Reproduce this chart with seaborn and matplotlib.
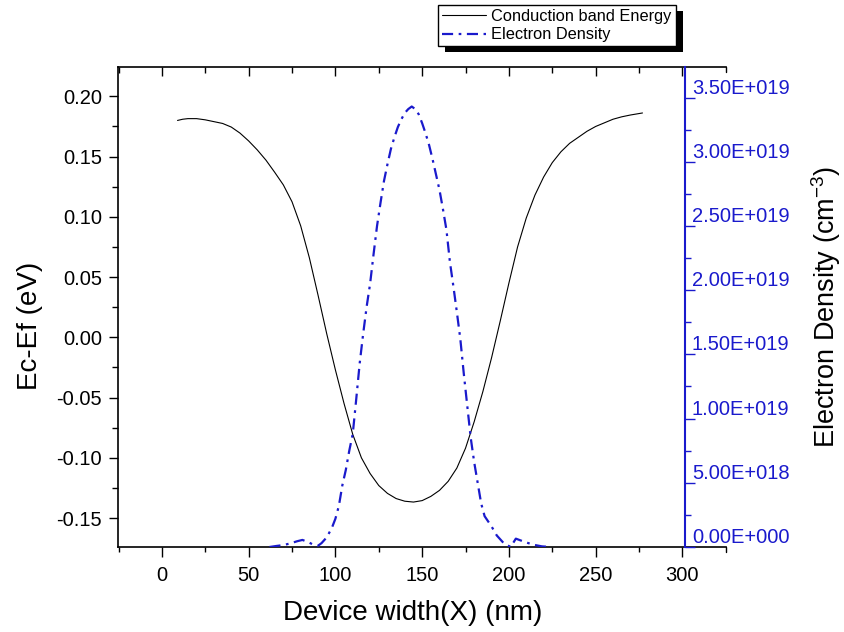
import numpy as np
import pandas as pd
import matplotlib
matplotlib.use("Agg")
import matplotlib.pyplot as plt
import seaborn as sns
from matplotlib.ticker import MultipleLocator, FuncFormatter
from matplotlib.patches import Rectangle
from matplotlib.lines import Line2D

# ---- data ----
x_cb = [9, 12, 15, 20, 25, 30, 35, 40, 45, 50, 55, 60, 65, 70, 75, 80, 85, 90,
        95, 100, 105, 110, 115, 120, 125, 130, 135, 140, 145, 150, 155, 160,
        165, 170, 175, 180, 185, 190, 195, 200, 205, 210, 215, 220, 225, 230,
        235, 240, 245, 250, 255, 260, 265, 270, 277]
ec_ef = [0.180, 0.181, 0.1815, 0.1815, 0.1805, 0.179, 0.1775, 0.1745, 0.1695,
         0.163, 0.1555, 0.147, 0.137, 0.1265, 0.1125, 0.0925, 0.066, 0.035,
         0.003, -0.027, -0.055, -0.0805, -0.100, -0.113, -0.123, -0.1295,
         -0.1338, -0.136, -0.1367, -0.1355, -0.132, -0.127, -0.1195, -0.1085,
         -0.092, -0.070, -0.045, -0.017, 0.0135, 0.045, 0.075, 0.099, 0.118,
         0.133, 0.145, 0.154, 0.161, 0.166, 0.171, 0.175, 0.178, 0.181, 0.183,
         0.1845, 0.1862]

x_ed = [62, 66, 70, 74, 78, 81, 84, 87, 90, 92, 94, 96, 98, 100, 102, 104, 106,
        108, 110, 112, 114, 116, 118, 120, 122, 124, 126, 128, 130, 132, 134,
        136, 138, 140, 142, 144, 146, 148, 150, 152, 154, 156, 158, 160, 162,
        164, 166, 168, 170, 172, 174, 176, 178, 180, 182, 184, 186, 188, 190,
        193, 197, 201, 204, 209, 214, 219, 224]
e_density = [0.0, 0.008, 0.015, 0.028, 0.045, 0.055, 0.04, 0.02, 0.01, 0.03,
             0.06, 0.10, 0.15, 0.22, 0.32, 0.48, 0.60, 0.75, 0.88, 1.15, 1.43,
             1.66, 1.87, 2.05, 2.28, 2.50, 2.68, 2.85, 2.98, 3.10, 3.19, 3.27,
             3.33, 3.38, 3.41, 3.43, 3.41, 3.37, 3.30, 3.22, 3.13, 3.02, 2.90,
             2.78, 2.63, 2.47, 2.22, 2.03, 1.83, 1.62, 1.35, 1.10, 0.85, 0.66,
             0.50, 0.34, 0.24, 0.20, 0.16, 0.09, 0.03, 0.0, 0.065, 0.04, 0.018,
             0.005, 0.0]
e_density = [v * 1e19 for v in e_density]

series_labels = ["Conduction band Energy", "Electron Density"]
xlabel = "Device width(X) (nm)"
ylabel_left = "Ec-Ef (eV)"
ylabel_right = "Electron Density (cm$^{-3}$)"

# ---- style ----
sns.set_style("ticks")
plt.rcParams["font.family"] = ["Liberation Sans", "DejaVu Sans"]
plt.rcParams["mathtext.default"] = "regular"
for k in ["text.color", "axes.labelcolor", "xtick.color", "ytick.color",
          "axes.edgecolor"]:
    plt.rcParams[k] = "black"
BLUE = "#1a1acc"

fig = plt.figure(figsize=(8.45, 6.32), dpi=100)
ax = fig.add_axes([118 / 845, 1 - 547 / 632, (685 - 118) / 845, (547 - 66.7) / 632])
ax2 = ax.twinx()

df_cb = pd.DataFrame({"x": x_cb, "y": ec_ef})
df_ed = pd.DataFrame({"x": x_ed, "y": e_density})

sns.lineplot(data=df_cb, x="x", y="y", ax=ax, color="black", lw=0.8,
             label=series_labels[0], legend=False, sort=False)
sns.lineplot(data=df_ed, x="x", y="y", ax=ax2, color=BLUE, lw=1.6,
             linestyle=(0, (5, 2.5, 1.2, 2.5)), label=series_labels[1],
             legend=False, sort=False)

ax.set_xlim(-25.3, 301.5)
ax.set_ylim(-0.174, 0.2246)
ax2.set_ylim(0, 3.74e19)

ax.xaxis.set_major_locator(MultipleLocator(50))
ax.xaxis.set_minor_locator(MultipleLocator(25))
ax.yaxis.set_major_locator(MultipleLocator(0.05))
ax.yaxis.set_minor_locator(MultipleLocator(0.025))
ax.yaxis.set_major_formatter(FuncFormatter(lambda v, p: f"{v:.2f}"))
ax2.yaxis.set_major_locator(MultipleLocator(5e18))
ax2.yaxis.set_minor_locator(MultipleLocator(2.5e18))

def sci_fmt(v, p):
    if abs(v) < 1:
        return "0.00E+000"
    e = int(np.floor(np.log10(abs(v))))
    m = v / 10 ** e
    return f"{m:.2f}E+{e:03d}"
ax2.yaxis.set_major_formatter(FuncFormatter(sci_fmt))

# ticks
ax.tick_params(axis="x", which="major", direction="out", length=7.5, width=1,
               labelsize=14.5, pad=6, bottom=True, top=False, colors="black")
ax.tick_params(axis="x", which="minor", direction="out", length=3.8, width=1,
               bottom=True, top=False, colors="black")
ax.tick_params(axis="y", which="major", direction="out", length=6.5, width=1,
               labelsize=14.5, pad=5, left=True, right=False, colors="black")
ax.tick_params(axis="y", which="minor", direction="out", length=4.2, width=1,
               left=True, right=False, colors="black")
ax2.tick_params(axis="y", which="major", direction="out", length=7, width=1,
                labelsize=14.5, pad=-2, colors=BLUE)
ax2.tick_params(axis="y", which="minor", direction="out", length=4.5, width=1,
                colors=BLUE)
for t in ax2.get_yticklabels():
    t.set_va("bottom")

# top axis with inward ticks
axt = ax.secondary_xaxis("top")
axt.xaxis.set_major_locator(MultipleLocator(50))
axt.xaxis.set_minor_locator(MultipleLocator(25))
axt.tick_params(axis="x", which="major", direction="in", length=6.5, width=1,
                labeltop=False, colors="black")
axt.tick_params(axis="x", which="minor", direction="in", length=4.2, width=1,
                colors="black")
axt.spines["top"].set_visible(False)

for s in ["left", "bottom", "top"]:
    ax.spines[s].set_color("black")
    ax.spines[s].set_linewidth(1.2)
ax.spines["right"].set_visible(False)
for s in ["left", "bottom", "top"]:
    ax2.spines[s].set_visible(False)
ax2.spines["right"].set_visible(True)
ax2.spines["right"].set_color(BLUE)
ax2.spines["right"].set_linewidth(1.5)

# extended top/bottom axis lines (Origin-style) to 325
ax.spines["bottom"].set_bounds(-25.3, 325)
ax.spines["top"].set_bounds(-25.3, 325)
tr = ax.get_xaxis_transform()
ax.add_line(Line2D([325, 325], [0, -0.011], transform=tr, color="black", lw=1, clip_on=False))
ax.add_line(Line2D([325, 325], [1, 1 - 0.011], transform=tr, color="black", lw=1, clip_on=False))

ax.set_xlabel(xlabel, fontsize=20, labelpad=10)
ax.xaxis.set_label_coords(0.52, -0.11)
ax.set_ylabel(ylabel_left, fontsize=20, labelpad=10)
ax.yaxis.set_label_coords(-0.133, 0.46)
ax2.set_ylabel(ylabel_right, fontsize=19.5, labelpad=14, color="black")

# legend
h1, l1 = ax.get_legend_handles_labels()
h2, l2 = ax2.get_legend_handles_labels()
leg = fig.legend(h1 + h2, l1 + l2, loc="upper left",
                 bbox_to_anchor=(438 / 845, 1 - 5 / 632), borderaxespad=0,
                 fontsize=11.8, frameon=True, fancybox=False, framealpha=1,
                 edgecolor="black", handlelength=2.7, handletextpad=0.3,
                 borderpad=0.25, labelspacing=0.2)
leg.get_frame().set_linewidth(1.0)
leg.set_zorder(10)

fig.canvas.draw()
bb = leg.get_window_extent()
shadow = Rectangle((bb.x0 + 7, bb.y0 - 6), bb.width, bb.height,
                   transform=None, facecolor="black", edgecolor="none", zorder=9)
fig.add_artist(shadow)

fig.savefig("out.png", dpi=100)
